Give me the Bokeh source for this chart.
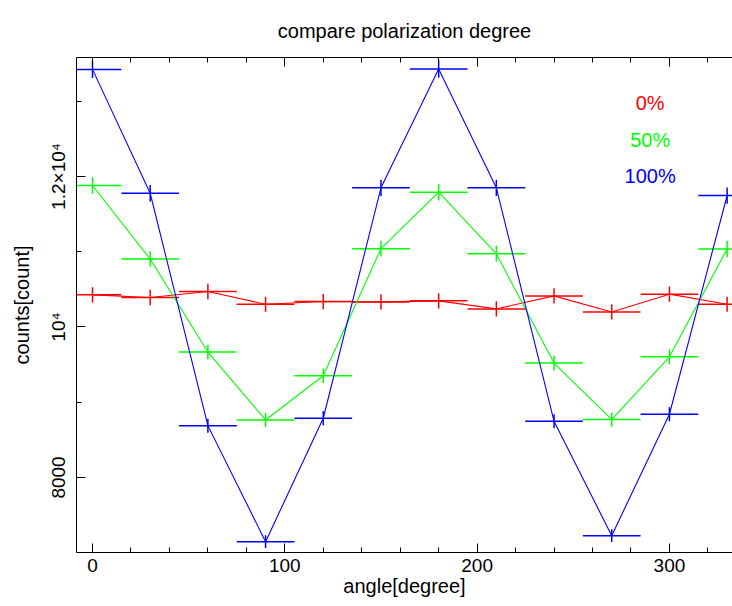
from bokeh.plotting import figure
from bokeh.models import Range1d, LinearAxis, FixedTicker, Label, ColumnDataSource
from bokeh.embed import file_html
from bokeh.resources import INLINE

# ---- data ----
angle = [0, 30, 60, 90, 120, 150, 180, 210, 240, 270, 300, 330]
angle_halfwidth = 15
counts_0 = [10427, 10391, 10471, 10302, 10338, 10333, 10347, 10240, 10413, 10200, 10436, 10302]
err_0 = [102, 102, 102, 101, 102, 102, 102, 101, 102, 101, 102, 101]
counts_50 = [11880, 10903, 9667, 8764, 9351, 11040, 11791, 10973, 9520, 8769, 9604, 11036]
err_50 = [109, 104, 98, 94, 97, 105, 109, 105, 98, 94, 98, 105]
counts_100 = [13423, 11777, 8689, 7147, 8787, 11849, 13427, 11849, 8747, 7227, 8840, 11747]
err_100 = [116, 109, 93, 85, 94, 109, 116, 109, 94, 85, 94, 108]
series_names = ["0%", "50%", "100%"]
series_colors = ["#ff0000", "#00ff00", "#0000ff"]

x_major = [0, 100, 200, 300]
x_minor = [20, 40, 60, 80, 120, 140, 160, 180, 220, 240, 260, 280, 320]
y_major = [8000, 10000, 12000]
y_minor = [7000, 9000, 11000, 13000]
y_labels = {8000: "8000", 10000: "10\u2074", 12000: "1.2\u00d710\u2074"}

FONT = "Liberation Sans"

p = figure(width=732, height=606, output_backend="svg", toolbar_location=None,
           x_range=Range1d(-8.32, 332.8), y_range=Range1d(7003, 13581),
           x_axis_type=None, y_axis_type=None,
           min_border_left=76, min_border_right=0, min_border_top=57, min_border_bottom=54)
p.outline_line_color = None
p.background_fill_color = "white"
p.border_fill_color = "white"

p.title.text = "compare polarization degree"
p.title.align = "center"
p.title.text_font = FONT
p.title.text_font_size = "20px"
p.title.text_font_style = "normal"
p.title.text_color = "black"
p.title.standoff = 32


def style_axis(ax, major, minor):
    ax.ticker = FixedTicker(ticks=major, minor_ticks=minor)
    ax.axis_line_color = "black"
    ax.axis_line_width = 1
    ax.major_tick_line_color = "black"
    ax.minor_tick_line_color = "black"
    ax.major_tick_in = 9
    ax.major_tick_out = 0
    ax.minor_tick_in = 5
    ax.minor_tick_out = 0
    ax.major_label_text_font = FONT
    ax.major_label_text_font_size = "19px"
    ax.major_label_text_color = "black"
    ax.axis_label_text_font = FONT
    ax.axis_label_text_font_size = "20px"
    ax.axis_label_text_font_style = "normal"
    ax.axis_label_text_color = "black"


left = LinearAxis()
style_axis(left, y_major, y_minor)
left.major_label_overrides = y_labels
left.major_label_orientation = "vertical"
left.major_label_standoff = 7
left.axis_label = "counts[count]"
left.axis_label_standoff = 13
p.add_layout(left, "left")

below = LinearAxis()
style_axis(below, x_major, x_minor)
below.major_label_standoff = 6
below.axis_label = "angle[degree]"
below.axis_label_standoff = 0
p.add_layout(below, "below")

above = LinearAxis()
style_axis(above, x_major, x_minor)
above.major_label_overrides = {t: "" for t in x_major}
above.major_label_standoff = 0
p.add_layout(above, "above")

all_counts = [counts_0, counts_50, counts_100]
all_errs = [err_0, err_50, err_100]
for cnt, err, col in zip(all_counts, all_errs, series_colors):
    src = ColumnDataSource(dict(
        x=angle, y=cnt,
        x0=[a - angle_halfwidth for a in angle],
        x1=[a + angle_halfwidth for a in angle],
        y0=[c - e for c, e in zip(cnt, err)],
        y1=[c + e for c, e in zip(cnt, err)],
    ))
    p.line("x", "y", source=src, line_color=col, line_width=1.1)
    p.segment(x0="x0", y0="y", x1="x1", y1="y", source=src, line_color=col, line_width=1.5)
    p.segment(x0="x", y0="y0", x1="x", y1="y1", source=src, line_color=col, line_width=1.5)

# legend-like texts
legend_y = [12983, 12485, 12007]
for name, col, ly in zip(series_names, series_colors, legend_y):
    p.add_layout(Label(x=290, y=ly, text=name, text_color=col, text_font=FONT,
                       text_font_size="20px", text_align="center", text_baseline="middle"))

open("out.html", "w").write(file_html(p, INLINE))
